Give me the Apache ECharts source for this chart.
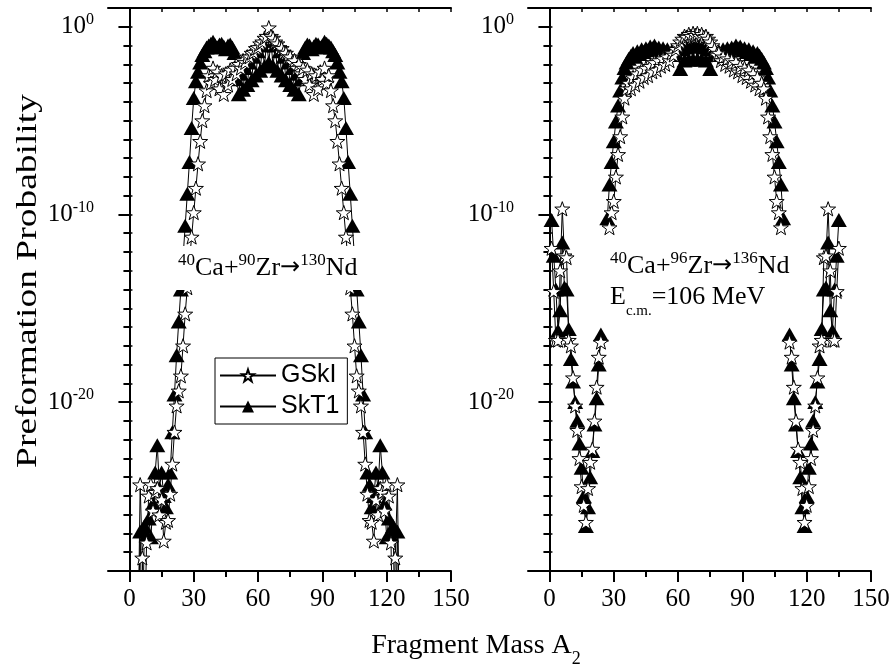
<!DOCTYPE html>
<html><head><meta charset="utf-8">
<script src="https://cdn.jsdelivr.net/npm/echarts@6/dist/echarts.min.js"></script>
<style>html,body{margin:0;padding:0;background:#fff}#c{width:893px;height:671px}</style>
</head><body><div id="c"></div>
<script>
// ---- Data (values given as log10 of the preformation probability) ----
// Left panel: 40Ca + 90Zr -> 130Nd, fragment masses starting at A2 = 3
const leftStartMass = 3;
const leftSkT1Exp = [
 -33,-33,-26.9,-33,-26.6,-27.1,-26.2,-27.2,-25.4,-23.75,
 -22.3,-24.6,-23.75,-25.0,-25.6,-24.4,-23.75,-21.6,-19.6,-17.5,
 -15.7,-14.0,-12.3,-10.6,-8.9,-7.2,-5.4,-3.8,-2.9,-2.4,
 -1.9,-1.5,-1.3,-1.1,-1.0,-0.9,-0.8,-1.0,-1.1,-0.95,
 -0.9,-1.05,-1.2,-1.0,-0.95,-1.1,-1.4,-2.8,-3.6,-2.5,
 -3.35,-2.2,-3.1,-1.9,-2.85,-1.6,-2.6,-1.3,-2.35,-1.0,
 -2.1,-0.75,-1.9,
 -0.75,-2.1,-1.0,-2.35,-1.3,-2.6,-1.6,-2.85,-1.9,-3.1,
 -2.2,-3.35,-2.5,-3.6,-2.8,-1.4,-1.1,-0.95,-1.0,-1.2,
 -1.05,-0.9,-0.95,-1.1,-1.0,-0.8,-0.9,-1.0,-1.1,-1.3,
 -1.5,-1.9,-2.4,-2.9,-3.8,-5.4,-7.2,-8.9,-10.6,-12.3,
 -14.0,-15.7,-17.5,-19.6,-21.6,-23.75,-24.4,-25.6,-25.0,-23.75,
 -24.6,-22.3,-23.75,-25.4,-27.2,-26.2,-27.1,-26.6,-33,-26.9,
 -33,-33
];
const leftGSkIExp = [
 -33,-33,-24.4,-28.3,-33,-27.5,-25.0,-24.4,-25.8,-24.8,
 -24.6,-26.0,-25.2,-27.4,-26.4,-26.3,-24.9,-23.3,-21.6,-20.2,
 -19.4,-18.6,-17.0,-15.3,-13.9,-12.5,-11.2,-9.9,-8.6,-7.3,
 -6.1,-5.0,-4.2,-3.4,-2.6,-3.0,-2.2,-2.8,-2.4,-3.3,
 -2.6,-3.6,-2.5,-3.1,-2.3,-2.8,-2.2,-2.5,-2.0,-2.2,
 -1.8,-1.9,-1.6,-1.6,-1.4,-1.35,-1.15,-1.1,-0.9,-0.8,
 -0.6,-0.5,-0.05,
 -0.5,-0.6,-0.8,-0.9,-1.1,-1.15,-1.35,-1.4,-1.6,-1.6,
 -1.9,-1.8,-2.2,-2.0,-2.5,-2.2,-2.8,-2.3,-3.1,-2.5,
 -3.6,-2.6,-3.3,-2.4,-2.8,-2.2,-3.0,-2.6,-3.4,-4.2,
 -5.0,-6.1,-7.3,-8.6,-9.9,-11.2,-12.5,-13.9,-15.3,-17.0,
 -18.6,-19.4,-20.2,-21.6,-23.3,-24.9,-26.3,-26.4,-27.4,-25.2,
 -26.0,-24.6,-24.8,-25.8,-24.4,-25.0,-27.5,-33,-28.3,-24.4,
 -33,-33
];
// Right panel: 40Ca + 96Zr -> 136Nd, fragment masses starting at A2 = 1
const rightStartMass = 1;
const rightSkT1Exp = [
 -10.3,-12.2,-14.0,-16.2,-15.1,-11.5,-13.9,-14.0,-16.1,-17.7,
 -18.9,-20.0,-21.0,-22.2,-23.5,-25.0,-26.6,-25.6,-24.0,-22.6,
 -21.2,-19.8,-18.0,-16.4,null,null,-10.2,-8.4,-7.2,-6.1,
 -5.05,-4.2,-3.4,-2.7,-2.2,-1.9,-1.7,-1.55,-1.4,-1.6,
 -1.3,-1.45,-1.2,-1.35,-1.15,-1.25,-1.05,-1.15,-1.0,-1.2,
 -1.1,-1.3,-1.15,-1.35,-1.2,-1.45,-1.3,-1.5,-1.4,-1.1,
 -2.25,-1.2,-1.8,-1.1,-1.75,-1.05,-1.75,-1.0,
 -1.75,-1.05,-1.75,-1.1,-1.8,-1.2,-2.25,-1.1,-1.4,-1.5,
 -1.3,-1.45,-1.2,-1.35,-1.15,-1.3,-1.1,-1.2,-1.0,-1.15,
 -1.05,-1.25,-1.15,-1.35,-1.2,-1.45,-1.3,-1.6,-1.4,-1.55,
 -1.7,-1.9,-2.2,-2.7,-3.4,-4.2,-5.05,-6.1,-7.2,-8.4,
 -10.2,null,null,-16.4,-18.0,-19.8,-21.2,-22.6,-24.0,-25.6,
 -26.6,-25.0,-23.5,-22.2,-21.0,-20.0,-18.9,-17.7,-16.1,-14.0,
 -13.9,-11.5,-15.1,-16.2,-14.0,-12.2,-10.3
];
const rightGSkIExp = [
 -11.8,-14.1,-16.7,-16.7,-13.0,-9.7,-12.2,-12.3,-16.7,-17.0,
 -18.7,-20.2,-21.5,-23.0,-24.5,-25.5,-26.4,-24.6,-23.2,-22.5,
 -21.0,-19.2,-17.6,-16.8,null,null,null,-10.7,-9.9,-9.3,
 -8.0,-6.8,-5.85,-4.8,-3.8,-3.3,-3.0,-3.3,-2.7,-3.1,
 -2.5,-2.9,-2.3,-2.7,-2.2,-2.6,-2.1,-2.4,-1.9,-2.3,
 -1.8,-2.1,-1.7,-2.0,-1.6,-1.8,-1.4,-1.5,-1.2,-1.0,
 -0.8,-0.65,-0.5,-0.55,-0.4,-0.5,-0.35,-0.45,
 -0.35,-0.5,-0.4,-0.55,-0.5,-0.65,-0.8,-1.0,-1.2,-1.5,
 -1.4,-1.8,-1.6,-2.0,-1.7,-2.1,-1.8,-2.3,-1.9,-2.4,
 -2.1,-2.6,-2.2,-2.7,-2.3,-2.9,-2.5,-3.1,-2.7,-3.3,
 -3.0,-3.3,-3.8,-4.8,-5.85,-6.8,-8.0,-9.3,-9.9,-10.7,
 null,null,null,-16.8,-17.6,-19.2,-21.0,-22.5,-23.2,-24.6,
 -26.4,-25.5,-24.5,-23.0,-21.5,-20.2,-18.7,-17.0,-16.7,-12.3,
 -12.2,-9.7,-13.0,-16.7,-16.7,-14.1,-11.8
];
const seriesNames = ['GSkI', 'SkT1'];
const xTickLabels = [0, 30, 60, 90, 120, 150];
const xMinorTicks = [15, 45, 75, 105, 135];
const xTopTicks = [0, 15, 30, 45, 60, 75, 90, 105, 120, 135, 150];
const yLabelValues = [1, 1e-10, 1e-20];
const yDecadeValues = [1,1e-1,1e-2,1e-3,1e-4,1e-5,1e-6,1e-7,1e-8,1e-9,1e-10,
  1e-11,1e-12,1e-13,1e-14,1e-15,1e-16,1e-17,1e-18,1e-19,1e-20,
  1e-21,1e-22,1e-23,1e-24,1e-25,1e-26,1e-27,1e-28,1e-29];

function toPairs(start, exps) {
  return exps.map((e, i) => [start + i, e === null ? '-' : Math.pow(10, e)]);
}

const starPath = 'path://M0,-10L2.35,-3.24L9.51,-3.09L3.8,1.24L5.88,8.09L0,4L-5.88,8.09L-3.8,1.24L-9.51,-3.09L-2.35,-3.24Z';
const serif = '"Liberation Serif", "Times New Roman", serif';
const sans = '"Liberation Sans", Arial, sans-serif';
const grids = [
  {left: 108, top: 8, width: 343, height: 563},
  {left: 528, top: 8, width: 343, height: 563}
];
const xAxes = [], yAxes = [];
grids.forEach((g, gi) => {
  xAxes.push({type: 'value', gridIndex: gi, min: -10, max: 150, position: 'bottom',
    axisLine: {show: true, onZero: false, lineStyle: {color: '#000', width: 2}},
    axisTick: {show: true, inside: false, length: 11, customValues: xTickLabels, lineStyle: {color: '#000', width: 2}},
    axisLabel: {show: true, customValues: xTickLabels, margin: 16, color: '#000', fontFamily: serif, fontSize: 25},
    splitLine: {show: false}});
  xAxes.push({type: 'value', gridIndex: gi, min: -10, max: 150, position: 'bottom',
    axisLine: {show: false, onZero: false},
    axisTick: {show: true, inside: false, length: 6, customValues: xMinorTicks, lineStyle: {color: '#000', width: 2}},
    axisLabel: {show: false}, splitLine: {show: false}});
  xAxes.push({type: 'value', gridIndex: gi, min: -10, max: 150, position: 'top',
    axisLine: {show: true, onZero: false, lineStyle: {color: '#000', width: 2}},
    axisTick: {show: true, inside: true, length: 4, customValues: xTopTicks, lineStyle: {color: '#000', width: 1.5}},
    axisLabel: {show: false}, splitLine: {show: false}});
  yAxes.push({type: 'log', gridIndex: gi, min: 1e-29, max: 10, position: 'left',
    axisLine: {show: true, lineStyle: {color: '#000', width: 2}},
    axisTick: {show: true, inside: false, length: 6, customValues: yDecadeValues, lineStyle: {color: '#000', width: 2}},
    axisLabel: {show: false}, splitLine: {show: false}});
  yAxes.push({type: 'log', gridIndex: gi, min: 1e-29, max: 10, position: 'left',
    axisLine: {show: false},
    axisTick: {show: true, inside: false, length: 11, customValues: yLabelValues, lineStyle: {color: '#000', width: 2}},
    axisLabel: {show: true, customValues: yLabelValues, margin: 14,
      formatter: v => '{b|10}{s|' + Math.round(Math.log10(v)) + '}',
      rich: {b: {fontFamily: serif, fontSize: 25, color: '#000', lineHeight: 30},
             s: {fontFamily: serif, fontSize: 16, color: '#000', verticalAlign: 'top', lineHeight: 16}}},
    splitLine: {show: false}});
  yAxes.push({type: 'log', gridIndex: gi, min: 1e-29, max: 10, position: 'right',
    axisLine: {show: true, lineStyle: {color: '#000', width: 2}},
    axisTick: {show: true, inside: false, length: 3, customValues: yDecadeValues, lineStyle: {color: '#000', width: 1.5}},
    axisLabel: {show: false}, splitLine: {show: false}});
});

function lineSeries(name, gi, data) {
  const isStar = name === 'GSkI';
  return {
    type: 'line', name: name, xAxisIndex: gi * 3, yAxisIndex: gi * 3, data: data,
    symbol: isStar ? starPath : 'triangle',
    symbolSize: isStar ? 15 : [16, 14], symbolKeepAspect: true,
    showSymbol: true, showAllSymbol: true, clip: true,
    itemStyle: isStar ? {color: '#fff', borderColor: '#000', borderWidth: 1} : {color: '#000'},
    lineStyle: {color: '#000', width: 1},
    emphasis: {disabled: true}, z: isStar ? 3 : 2
  };
}

const richNote = {
  n: {fontFamily: serif, fontSize: 26, fill: '#000', lineHeight: 32},
  a: {fontFamily: '"DejaVu Sans", sans-serif', fontSize: 24, fill: '#000', lineHeight: 32},
  s: {fontFamily: serif, fontSize: 17, fill: '#000', lineHeight: 16, verticalAlign: 'top'}
};

const option = {
  animation: false,
  backgroundColor: '#fff',
  grid: grids,
  xAxis: xAxes,
  yAxis: yAxes,
  legend: {
    data: seriesNames, orient: 'vertical', left: 215, top: 358,
    itemWidth: 56, itemHeight: 15, itemGap: 6, padding: [5, 8, 5, 4],
    borderColor: '#000', borderWidth: 1, backgroundColor: '#fff', borderRadius: 0,
    textStyle: {fontFamily: sans, fontSize: 25, color: '#000'}, selectedMode: false, z: 20
  },
  series: [
    lineSeries('SkT1', 0, toPairs(leftStartMass, leftSkT1Exp)),
    lineSeries('GSkI', 0, toPairs(leftStartMass, leftGSkIExp)),
    lineSeries('SkT1', 1, toPairs(rightStartMass, rightSkT1Exp)),
    lineSeries('GSkI', 1, toPairs(rightStartMass, rightGSkIExp))
  ],
  graphic: [
    {type: 'text', x: 28, y: 281, rotation: Math.PI / 2, scaleX: 1.25, z: 50,
      style: {text: 'Preformation Probability', font: '30px ' + serif, fill: '#000', align: 'center', verticalAlign: 'middle'}},
    {type: 'text', x: 476, y: 632, z: 50,
      style: {text: '{m|Fragment Mass A}{u|2}', align: 'center', verticalAlign: 'top',
        rich: {m: {fontFamily: serif, fontSize: 28, fill: '#000', lineHeight: 32, verticalAlign: 'top'},
               u: {fontFamily: serif, fontSize: 18, fill: '#000', lineHeight: 18, verticalAlign: 'top', padding: [18, 0, 0, 0]}}}},
    {type: 'text', x: 172, y: 246, z: 50,
      style: {text: '{s|40}{n|Ca+}{s|90}{n|Zr}{a|→}{s|130}{n|Nd}', backgroundColor: '#fff', padding: [6, 6, 6, 6],
        rich: richNote}},
    {type: 'text', x: 610, y: 250, z: 50,
      style: {text: '{s|40}{n|Ca+}{s|96}{n|Zr}{a|→}{s|136}{n|Nd}', rich: richNote}},
    {type: 'text', x: 610, y: 284, z: 50,
      style: {text: '{n|E}{d|c.m.}{n|=106 MeV}',
        rich: {n: {fontFamily: serif, fontSize: 26, fill: '#000', lineHeight: 32, verticalAlign: 'top'},
               d: {fontFamily: serif, fontSize: 15, fill: '#000', lineHeight: 15, verticalAlign: 'top', padding: [20, 0, 0, 0]}}}}
  ]
};
const chart = echarts.init(document.getElementById('c'), null, {renderer: 'canvas'});
chart.setOption(option);
</script>
</body></html>
